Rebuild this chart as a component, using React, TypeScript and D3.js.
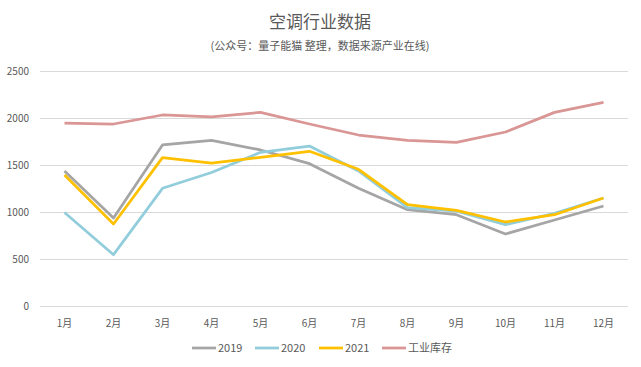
import React, { useEffect, useRef } from 'react';
import * as d3 from 'd3';

const months = ['1月', '2月', '3月', '4月', '5月', '6月', '7月', '8月', '9月', '10月', '11月', '12月'];
const s2019 = [1436, 936, 1713, 1762, 1660, 1514, 1252, 1025, 971, 766, 915, 1064];
const s2020 = [995, 546, 1252, 1420, 1635, 1702, 1436, 1046, 1010, 865, 985, 1149];
const s2021 = [1394, 872, 1578, 1521, 1582, 1646, 1454, 1078, 1018, 894, 971, 1149];
const stock = [1946, 1936, 2032, 2011, 2060, 1936, 1819, 1762, 1741, 1851, 2060, 2167];
const yTicks = [0, 500, 1000, 1500, 2000, 2500];

const seriesList = [
  { name: '2019', values: s2019, color: '#A5A5A5' },
  { name: '2020', values: s2020, color: '#92CDDC' },
  { name: '2021', values: s2021, color: '#FFC000' },
  { name: '工业库存', values: stock, color: '#D99694' },
];

const FONT = '"Noto Sans CJK SC", "Noto Sans", sans-serif';

const App = () => {
  const svgRef = useRef<SVGSVGElement>(null);

  useEffect(() => {
    const svg = d3.select(svgRef.current);
    svg.selectAll('*').remove();

    const width = 641, height = 367;
    const margin = { top: 71, right: 13, bottom: 61, left: 40 };

    const x = d3.scaleBand()
      .domain(months)
      .range([margin.left, width - margin.right]);

    const y = d3.scaleLinear()
      .domain([0, 2500])
      .range([height - margin.bottom, margin.top]);

    svg.append('rect').attr('width', width).attr('height', height).attr('fill', '#fff');

    // Title
    svg.append('text')
      .attr('x', 320).attr('y', 28)
      .attr('text-anchor', 'middle')
      .attr('font-family', FONT)
      .attr('font-size', 17)
      .attr('fill', '#595959')
      .text('空调行业数据');

    svg.append('text')
      .attr('x', 320).attr('y', 50)
      .attr('text-anchor', 'middle')
      .attr('font-family', FONT)
      .attr('font-size', 11)
      .attr('fill', '#595959')
      .text('(公众号：量子能猫 整理，数据来源产业在线)');

    // Grid
    svg.append('g')
      .selectAll('line')
      .data(yTicks)
      .join('line')
      .attr('x1', margin.left)
      .attr('x2', width - margin.right)
      .attr('y1', d => y(d) + 0.5)
      .attr('y2', d => y(d) + 0.5)
      .attr('stroke', '#D9D9D9')
      .attr('stroke-width', 1);

    // Y labels
    svg.append('g')
      .selectAll('text')
      .data(yTicks)
      .join('text')
      .attr('x', 29)
      .attr('y', d => y(d) + 4)
      .attr('text-anchor', 'end')
      .attr('font-family', FONT)
      .attr('font-size', 10)
      .attr('fill', '#595959')
      .text(d => d);

    // X labels
    svg.append('g')
      .selectAll('text')
      .data(months)
      .join('text')
      .attr('x', d => x(d)! + x.bandwidth() / 2)
      .attr('y', height - margin.bottom + 21)
      .attr('text-anchor', 'middle')
      .attr('font-family', FONT)
      .attr('font-size', 10)
      .attr('fill', '#595959')
      .text(d => d);

    const line = d3.line<number>()
      .x((d, i) => x(months[i])! + x.bandwidth() / 2)
      .y(d => y(d));

    // draw stock first so it sits behind? order: 2019, 2020, 2021, stock
    seriesList.forEach(s => {
      svg.append('path')
        .datum(s.values)
        .attr('d', line)
        .attr('fill', 'none')
        .attr('stroke', s.color)
        .attr('stroke-width', 2.75)
        .attr('stroke-linejoin', 'round');
    });

    // Legend
    const legendX = [192, 255, 319, 382];
    seriesList.forEach((s, i) => {
      const g = svg.append('g').attr('transform', `translate(${legendX[i]}, 348)`);
      g.append('line')
        .attr('x1', 0).attr('x2', 24)
        .attr('y1', 0).attr('y2', 0)
        .attr('stroke', s.color)
        .attr('stroke-width', 2.75);
      g.append('text')
        .attr('x', 26)
        .attr('y', 4)
        .attr('font-family', FONT)
        .attr('font-size', 11)
        .attr('fill', '#595959')
        .text(s.name);
    });
  }, []);

  return <svg ref={svgRef} width={641} height={367} style={{ position: 'absolute', left: 0, top: 0 }} />;
};

export default App;
